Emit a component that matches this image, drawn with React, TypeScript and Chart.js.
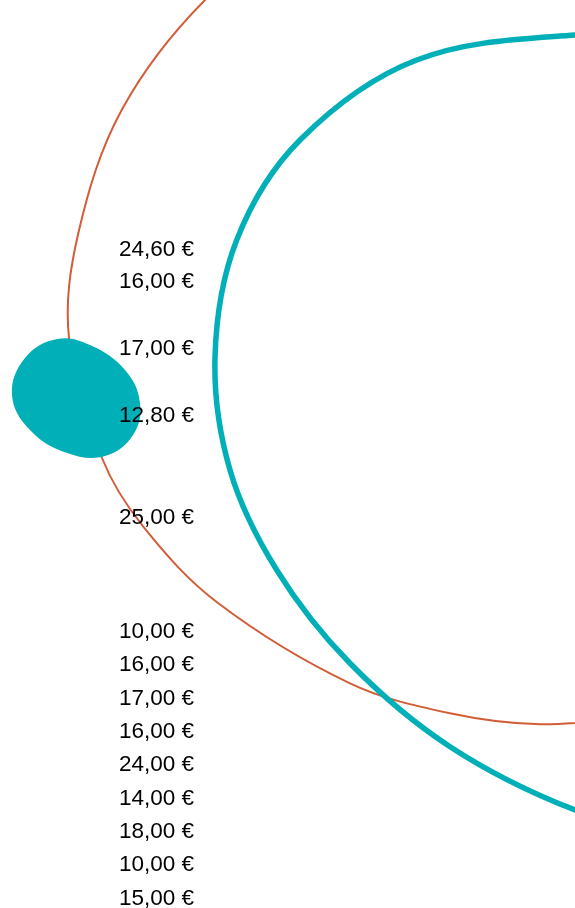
import React, { useEffect, useRef } from 'react';
import { Chart, registerables } from 'chart.js';

Chart.register(...registerables);

// Price labels shown on the left axis, top to bottom
const priceLabels = [
  '24,60 €', '16,00 €', '17,00 €', '12,80 €', '25,00 €',
  '10,00 €', '16,00 €', '17,00 €', '16,00 €', '24,00 €',
  '14,00 €', '18,00 €', '10,00 €', '15,00 €',
];
// Row value (on the vertical axis) of each price label
const labelRows = [25.0, 28.2, 34.9, 41.6, 51.8, 63.2, 66.5, 69.85, 73.2, 76.5, 79.9, 83.2, 86.5, 89.9];

// Thin orange curve: [x, y] pairs
const orangeCurve: [number, number][] = [
  [29.4, -6.4], [20.5, 0], [12.17, 11.0], [7.83, 23.33], [6.9, 33.8], [10.2, 45.8],
  [14.33, 52.67], [21.8, 60.3], [35.0, 68.33], [45.0, 71.33], [54.0, 72.43], [64.0, 71.7],
];

// Thick teal curve: [x, y] pairs
const tealCurve: [number, number][] = [
  [68.0, 4.0], [57.5, 3.5], [41.67, 6.0], [30.0, 14.0], [23.67, 24.0], [21.5, 35.7],
  [23.0, 47.0], [27.67, 57.0], [35.0, 66.33], [45.0, 74.67], [57.5, 81.0], [69.0, 84.0],
];

// Filled teal blob outline: [x, y] pairs (wraps past its start to close smoothly)
const blobOutline: [number, number][] = [
  [2.5, 35.8], [5.7, 33.9], [9.0, 34.5], [12.5, 37.0], [14.0, 40.3], [13.3, 43.5],
  [10.5, 45.6], [6.7, 45.3], [3.0, 43.0], [1.2, 39.5], [2.5, 35.8], [5.7, 33.9],
  [9.0, 34.5], [12.5, 37.0],
];

const TEAL = '#00afb7';
const ORANGE = '#d15d38';

const toPoints = (arr: [number, number][]) => arr.map(([x, y]) => ({ x, y }));

export default function App() {
  const ref = useRef<HTMLCanvasElement | null>(null);

  useEffect(() => {
    if (!ref.current) return;
    const chart = new Chart(ref.current, {
      type: 'line',
      data: {
        datasets: [
          {
            label: 'blob',
            data: toPoints(blobOutline),
            tension: 0.4,
            borderWidth: 0,
            borderColor: TEAL,
            backgroundColor: TEAL,
            fill: 'shape',
            pointRadius: 0,
          } as any,
          {
            label: 'teal',
            data: toPoints(tealCurve),
            tension: 0.35,
            borderWidth: 5.5,
            borderColor: TEAL,
            backgroundColor: TEAL,
            fill: false,
            pointRadius: 0,
          } as any,
          {
            label: 'orange',
            data: toPoints(orangeCurve),
            tension: 0.35,
            borderWidth: 2,
            borderColor: ORANGE,
            backgroundColor: ORANGE,
            fill: false,
            pointRadius: 0,
          } as any,
        ],
      },
      options: {
        animation: false,
        responsive: true,
        maintainAspectRatio: false,
        events: [],
        layout: { padding: 0 },
        elements: { line: { capBezierPoints: false } },
        plugins: {
          legend: { display: false },
          tooltip: { enabled: false },
        },
        scales: {
          x: { type: 'linear', display: false, min: 0, max: 57.5 },
          y: {
            type: 'linear',
            min: 0,
            max: 90.8,
            reverse: true,
            grid: { display: false, drawTicks: false },
            border: { display: false },
            afterBuildTicks: (s: any) => {
              s.ticks = labelRows.map((v) => ({ value: v }));
            },
            afterFit: (s: any) => {
              s.width = 0;
              s.paddingTop = 0;
              s.paddingBottom = 0;
            },
            ticks: {
              mirror: true,
              crossAlign: 'far',
              padding: 119,
              autoSkip: false,
              z: 1,
              color: '#000',
              font: { family: '"Liberation Sans", Arial, sans-serif', size: 22.5 },
              callback: (_v: any, i: number) => priceLabels[i],
            },
          } as any,
        },
      },
    });
    return () => chart.destroy();
  }, []);

  return (
    <div style={{ position: 'fixed', left: 0, top: 0, width: 575, height: 908 }}>
      <canvas ref={ref} />
    </div>
  );
}
